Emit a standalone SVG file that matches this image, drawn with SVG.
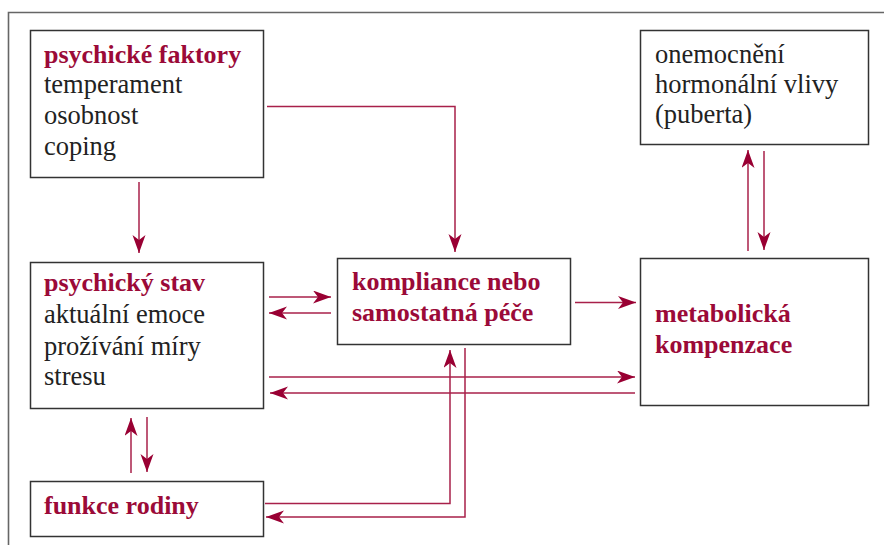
<svg xmlns="http://www.w3.org/2000/svg" width="884" height="545" viewBox="0 0 884 545">
<style>
.frame{fill:none;stroke:#666;stroke-width:1.6}
.box{fill:#fff;stroke:#333;stroke-width:1.5}
.t{font-family:'Liberation Serif','DejaVu Serif',Times,serif;font-size:26.5px;fill:#222}
.h{font-weight:bold;font-size:26px;fill:#9b0a38}
.c{fill:none;stroke:#a8204a;stroke-width:1.5}
</style>
<defs>
<marker id="ah" markerUnits="userSpaceOnUse" markerWidth="20" markerHeight="14" refX="18" refY="6.5" orient="auto">
<path d="M0,0 L18,6.5 L0,13 L5,6.5 z" fill="#990033"/>
</marker>
</defs>
<path class="frame" d="M8.5,545 V12.5 H884"/>
<g id="psychicke-faktory">
<rect class="box" x="30.5" y="30.5" width="233" height="147"/>
<text class="t h" x="44" y="63">psychické faktory</text>
<text class="t" x="44" y="93">temperament</text>
<text class="t" x="44" y="124">osobnost</text>
<text class="t" x="44" y="155">coping</text>
</g>
<g id="onemocneni">
<rect class="box" x="640.5" y="30.5" width="228" height="114"/>
<text class="t" x="655" y="63">onemocnění</text>
<text class="t" x="655" y="93">hormonální vlivy</text>
<text class="t" x="655" y="123">(puberta)</text>
</g>
<g id="psychicky-stav">
<rect class="box" x="30.5" y="262.5" width="233" height="146"/>
<text class="t h" x="44" y="291">psychický stav</text>
<text class="t" x="44" y="323">aktuální emoce</text>
<text class="t" x="44" y="355">prožívání míry</text>
<text class="t" x="44" y="385">stresu</text>
</g>
<g id="kompliance">
<rect class="box" x="337.5" y="258.5" width="233" height="86"/>
<text class="t h" x="352" y="290">kompliance nebo</text>
<text class="t h" x="352" y="321">samostatná péče</text>
</g>
<g id="metabolicka">
<rect class="box" x="640.5" y="258.5" width="228" height="147"/>
<text class="t h" x="655" y="322">metabolická</text>
<text class="t h" x="655" y="353">kompenzace</text>
</g>
<g id="funkce-rodiny">
<rect class="box" x="30.5" y="481.5" width="233" height="55"/>
<text class="t h" x="44" y="514">funkce rodiny</text>
</g>
<g id="connectors">
<path class="c" d="M139,182 V253" marker-end="url(#ah)"/>
<path class="c" d="M267,106.5 H455 V252" marker-end="url(#ah)"/>
<path class="c" d="M269,297 H331" marker-end="url(#ah)"/>
<path class="c" d="M331,313 H269" marker-end="url(#ah)"/>
<path class="c" d="M575,302.5 H636" marker-end="url(#ah)"/>
<path class="c" d="M269,377 H635" marker-end="url(#ah)"/>
<path class="c" d="M635,393 H270" marker-end="url(#ah)"/>
<path class="c" d="M748,251 V150" marker-end="url(#ah)"/>
<path class="c" d="M764,151 V250" marker-end="url(#ah)"/>
<path class="c" d="M131,473 V418" marker-end="url(#ah)"/>
<path class="c" d="M147,417 V472" marker-end="url(#ah)"/>
<path class="c" d="M265,503.5 H450 V350" marker-end="url(#ah)"/>
<path class="c" d="M465,348 V517 H266" marker-end="url(#ah)"/>
</g>
</svg>
